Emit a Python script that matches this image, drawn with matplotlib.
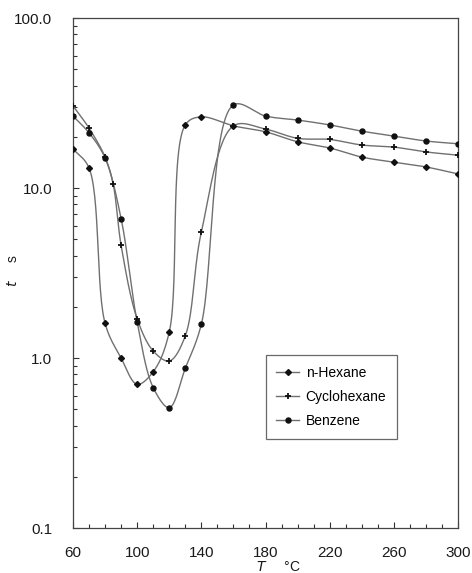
import numpy as np
import matplotlib
matplotlib.use("Agg")
import matplotlib.pyplot as plt
from matplotlib.ticker import FixedLocator, LogLocator, NullFormatter, FuncFormatter

plt.rcParams['font.family'] = ['Liberation Sans', 'DejaVu Sans']

# ---- data ----
hex_T = [60, 70, 80, 90, 100, 110, 120, 130, 140, 160, 180, 200, 220, 240, 260, 280, 300]
hex_t = [17.0, 13.1, 1.6, 1.0, 0.70, 0.83, 1.42, 23.5, 26.2, 23.2, 21.4, 18.7, 17.2, 15.2, 14.2, 13.3, 12.1]

cyc_T = [60, 70, 80, 85, 90, 100, 110, 120, 130, 140, 160, 180, 200, 220, 240, 260, 280, 300]
cyc_t = [30.4, 22.5, 15.2, 10.6, 4.6, 1.7, 1.1, 0.96, 1.35, 5.5, 23.2, 22.2, 19.6, 19.3, 17.9, 17.4, 16.3, 15.6]

ben_T = [60, 70, 80, 90, 100, 110, 120, 130, 140, 160, 180, 200, 220, 240, 260, 280, 300]
ben_t = [26.5, 21.1, 15.0, 6.6, 1.63, 0.67, 0.51, 0.87, 1.58, 30.8, 26.5, 25.1, 23.5, 21.6, 20.2, 18.9, 18.2]

labels = ['n-Hexane', 'Cyclohexane', 'Benzene']
x_ticks = [60, 100, 140, 180, 220, 260, 300]
y_ticks = [0.1, 1.0, 10.0, 100.0]


def smooth(x, y, n=30, alpha=0.5):
    """Centripetal Catmull-Rom curve through the points, drawn in display-like space."""
    x = np.asarray(x, float)
    y = np.asarray(y, float)
    u = (x - 60) * 385 / 240
    v = np.log10(y) * 170
    P = np.column_stack([u, v])
    P = np.vstack([2 * P[0] - P[1], P, 2 * P[-1] - P[-2]])
    out = []
    for i in range(1, len(P) - 2):
        p0, p1, p2, p3 = P[i - 1], P[i], P[i + 1], P[i + 2]
        t0 = 0.0
        t1 = t0 + max(np.linalg.norm(p1 - p0), 1e-6) ** alpha
        t2 = t1 + max(np.linalg.norm(p2 - p1), 1e-6) ** alpha
        t3 = t2 + max(np.linalg.norm(p3 - p2), 1e-6) ** alpha
        t = np.linspace(t1, t2, n, endpoint=False)[:, None]
        A1 = (t1 - t) / (t1 - t0) * p0 + (t - t0) / (t1 - t0) * p1
        A2 = (t2 - t) / (t2 - t1) * p1 + (t - t1) / (t2 - t1) * p2
        A3 = (t3 - t) / (t3 - t2) * p2 + (t - t2) / (t3 - t2) * p3
        B1 = (t2 - t) / (t2 - t0) * A1 + (t - t0) / (t2 - t0) * A2
        B2 = (t3 - t) / (t3 - t1) * A2 + (t - t1) / (t3 - t1) * A3
        C = (t2 - t) / (t2 - t1) * B1 + (t - t1) / (t2 - t1) * B2
        out.append(C)
    out.append(P[-2:-1])
    Q = np.vstack(out)
    return Q[:, 0] * 240 / 385 + 60, 10 ** (Q[:, 1] / 170)


fig = plt.figure(figsize=(4.72, 5.73), dpi=100)
ax = fig.add_axes([73 / 472, 1 - 528 / 573, 385 / 472, 510 / 573])

line_col = '#707070'
styles = [
    dict(marker='D', ms=3.0),
    dict(marker='+', ms=4, mew=1.3),
    dict(marker='o', ms=3.6),
]
series = [(hex_T, hex_t), (cyc_T, cyc_t), (ben_T, ben_t)]
for (T, tv), lab, st in zip(series, labels, styles):
    sx, sy = smooth(T, tv)
    ax.plot(sx, sy, color=line_col, lw=1.0, zorder=2)
    ax.plot(T, tv, ls='none', color='#111111', zorder=3, **st)
    ax.plot([], [], color=line_col, lw=1.0, mfc='#111111', mec='#111111', label=lab, **st)

ax.set_yscale('log')
ax.set_xlim(60, 300)
ax.set_ylim(0.1, 100)

ax.xaxis.set_major_locator(FixedLocator(x_ticks))
ax.xaxis.set_minor_locator(FixedLocator(list(range(60, 301, 10))))
ax.yaxis.set_major_locator(FixedLocator(y_ticks))
ax.yaxis.set_minor_locator(LogLocator(base=10, subs=np.arange(2, 10)))
ax.yaxis.set_minor_formatter(NullFormatter())
ax.yaxis.set_major_formatter(FuncFormatter(lambda v, p: f"{v:.1f}"))

ax.tick_params(axis='both', which='both', direction='in', colors='#333333',
               labelcolor='#1a1a1a', labelsize=11, top=False, right=False)
ax.tick_params(axis='both', which='major', length=4, width=0.8)
ax.tick_params(axis='both', which='minor', length=3, width=0.8)
ax.tick_params(axis='y', which='major', pad=15)
ax.tick_params(axis='x', which='major', pad=13)

for s in ax.spines.values():
    s.set_color('#444444')
    s.set_linewidth(0.9)

fig.text(13 / 472, 1 - 270 / 573, r'$t$     s', rotation=90, ha='center', va='center',
         fontsize=10, color='#1a1a1a')
fig.text(278 / 472, 1 - 567 / 573, r'$T$     °C', ha='center', va='center',
         fontsize=10, color='#1a1a1a')

leg = ax.legend(loc='center', bbox_to_anchor=(0.671, 0.257), frameon=True, fancybox=False,
                fontsize=10, handlelength=1.6, handletextpad=0.5, labelspacing=0.75,
                borderpad=0.75, borderaxespad=0)
leg.get_frame().set_edgecolor('#444444')
leg.get_frame().set_linewidth(0.9)

fig.savefig('out.png', dpi=100)
